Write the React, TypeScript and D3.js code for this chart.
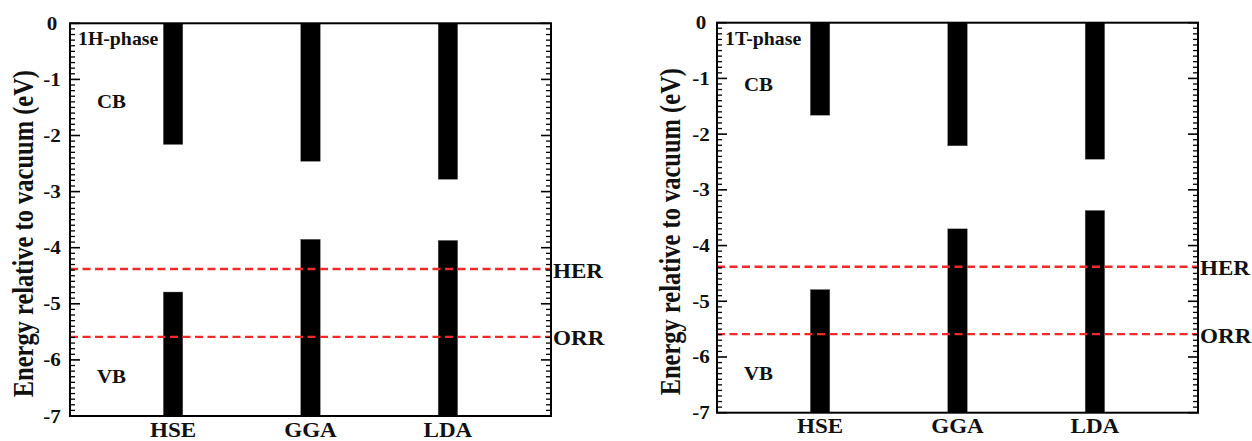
import React from "react";
import * as d3 from "d3";

// ---- data ----
const methods = ["HSE", "GGA", "LDA"];
const cb1H = [-2.16, -2.46, -2.78];
const vb1H = [-4.79, -3.85, -3.87];
const cb1T = [-1.66, -2.21, -2.45];
const vb1T = [-4.79, -3.7, -3.37];
const levelNames = ["HER", "ORR"];
const levelValues = [-4.38, -5.59];
const yTickValues = [0, -1, -2, -3, -4, -5, -6, -7];
const phaseNames = ["1H-phase", "1T-phase"];

// ---- layout ----
const W = 1252;
const H = 441;
const FONT = "'Liberation Serif', 'Times New Roman', serif";
const SX = 1.1;
const Y_MIN = -7;
const Y_MAX = 0;
const BAR_W = 0.142;

const panels = [
  { phase: phaseNames[0], cb: cb1H, vb: vb1H, left: 70, right: 551, top: 23.3, bottom: 416, titleX: 33, tickLabelDx: 18, cbLabelV: -1.51 },
  { phase: phaseNames[1], cb: cb1T, vb: vb1T, left: 717, right: 1198, top: 22.7, bottom: 412.7, titleX: 680, tickLabelDx: 16, cbLabelV: -1.22 },
];

function T({ x, y, size, anchor = "start", sx = SX, children }: any) {
  return (
    <text
      transform={`translate(${x},${y}) scale(${sx},1)`}
      fontSize={size}
      fontFamily={FONT}
      fontWeight="bold"
      textAnchor={anchor}
      fill="#111"
    >
      {children}
    </text>
  );
}

function Panel({ p }: any) {
  const x = d3.scaleLinear().domain([0.25, 3.75]).range([p.left, p.right]);
  const y = d3.scaleLinear().domain([Y_MIN, Y_MAX]).range([p.bottom, p.top]);
  const bw = x(1 + BAR_W) - x(1);
  const minor = d3.range(-70, 1).map((i) => i / 10).filter((v) => Math.abs(v - Math.round(v)) > 1e-6);
  const cx = (i: number) => x(i + 1);

  return (
    <g>
      {methods.map((m, i) => (
        <g key={m}>
          <rect x={cx(i) - bw / 2} y={y(0)} width={bw} height={y(p.cb[i]) - y(0)} fill="#000" stroke="#666" strokeWidth={0.4} />
          <rect x={cx(i) - bw / 2} y={y(p.vb[i])} width={bw} height={y(Y_MIN) - y(p.vb[i])} fill="#000" stroke="#666" strokeWidth={0.4} />
        </g>
      ))}
      {levelValues.map((v, i) => (
        <g key={levelNames[i]}>
          <line x1={p.left} x2={p.right} y1={y(v)} y2={y(v)} stroke="#ee2a2a" strokeWidth={2.4} strokeDasharray="8,4.5" />
          <T x={p.right + 2} y={y(v) + 8.5} size={21}>{levelNames[i]}</T>
        </g>
      ))}
      {minor.map((v) => (
        <g key={"m" + v}>
          <line x1={p.left} x2={p.left + 5} y1={y(v)} y2={y(v)} stroke="#000" strokeWidth={1.3} />
          <line x1={p.right} x2={p.right - 5} y1={y(v)} y2={y(v)} stroke="#000" strokeWidth={1.3} />
        </g>
      ))}
      {yTickValues.map((v) => (
        <g key={"M" + v}>
          <line x1={p.left} x2={p.left + 10} y1={y(v)} y2={y(v)} stroke="#000" strokeWidth={1.6} />
          <line x1={p.right} x2={p.right - 10} y1={y(v)} y2={y(v)} stroke="#000" strokeWidth={1.6} />
          <T x={p.left - p.tickLabelDx} y={y(v) + 6.5} size={18.5} anchor="middle" sx={1.14}>{String(v)}</T>
        </g>
      ))}
      <rect x={p.left} y={p.top} width={p.right - p.left} height={p.bottom - p.top} fill="none" stroke="#000" strokeWidth={2} />
      {methods.map((m, i) => (
        <T key={m} x={cx(i)} y={p.bottom + 20.5} size={21} anchor="middle">{m}</T>
      ))}
      <T x={p.left + 8} y={p.top + 22} size={18}>{p.phase}</T>
      <T x={p.left + 27} y={y(p.cbLabelV)} size={19}>CB</T>
      <T x={p.left + 27} y={y(-6.41)} size={19}>VB</T>
      <text
        transform={`translate(${p.titleX},${(p.top + p.bottom) / 2 + 14}) scale(1.2,1) rotate(-90)`}
        fontSize={24.5}
        fontFamily={FONT}
        fontWeight="bold"
        textAnchor="middle"
        fill="#111"
      >
        Energy relative to vacuum (eV)
      </text>
    </g>
  );
}

export default function App() {
  return (
    <svg width={W} height={H} style={{ position: "absolute", left: 0, top: 0, background: "#fff" }}>
      <rect x={0} y={0} width={W} height={H} fill="#fff" />
      {panels.map((p) => (
        <Panel key={p.phase} p={p} />
      ))}
    </svg>
  );
}
